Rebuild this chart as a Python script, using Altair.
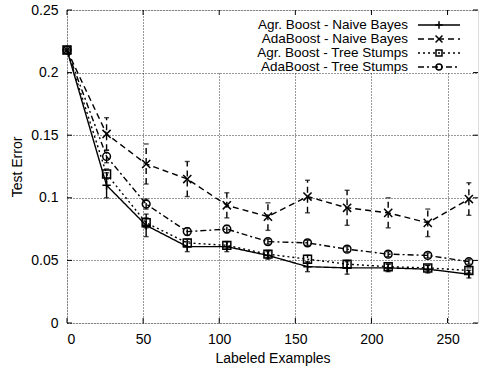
import altair as alt
import pandas as pd

# ---------------- data ----------------
examples = [0, 26, 52, 79, 105, 132, 158, 184, 211, 237, 264]
series_names = [
    "Agr. Boost - Naive Bayes",
    "AdaBoost - Naive Bayes",
    "Agr. Boost - Tree Stumps",
    "AdaBoost - Tree Stumps",
]
agr_nb = [0.218, 0.110, 0.078, 0.061, 0.061, 0.054, 0.045, 0.044, 0.044, 0.043, 0.039]
agr_nb_err = [0.0, 0.010, 0.009, 0.004, 0.004, 0.003, 0.004, 0.005, 0.003, 0.003, 0.003]
ada_nb = [0.218, 0.151, 0.127, 0.115, 0.094, 0.085, 0.101, 0.092, 0.088, 0.080, 0.099]
ada_nb_err = [0.0, 0.013, 0.016, 0.014, 0.010, 0.011, 0.013, 0.014, 0.012, 0.011, 0.013]
agr_ts = [0.218, 0.119, 0.080, 0.064, 0.062, 0.055, 0.051, 0.047, 0.045, 0.044, 0.042]
agr_ts_err = [0.0, 0.004, 0.004, 0.003, 0.003, 0.003, 0.003, 0.003, 0.002, 0.002, 0.002]
ada_ts = [0.218, 0.133, 0.095, 0.073, 0.075, 0.065, 0.064, 0.059, 0.055, 0.054, 0.049]
ada_ts_err = [0.0, 0.005, 0.004, 0.003, 0.003, 0.002, 0.002, 0.002, 0.002, 0.002, 0.002]

x_ticks = [0, 50, 100, 150, 200, 250]
y_ticks = [0, 0.05, 0.1, 0.15, 0.2, 0.25]

values = [agr_nb, ada_nb, agr_ts, ada_ts]
errors = [agr_nb_err, ada_nb_err, agr_ts_err, ada_ts_err]

rows = []
for name, vals, errs in zip(series_names, values, errors):
    for xv, v, e in zip(examples, vals, errs):
        rows.append({"series": name, "x": xv, "y": v, "lo": v - e, "hi": v + e, "err": e})
df = pd.DataFrame(rows)
df_err = df[df["err"] > 0]

# ---------------- styles ----------------
W, H = 411, 313
FONT = "Liberation Sans"
plus_path = "M-1,0L1,0M0,-1L0,1"
x_path = "M-1,-1L1,1M-1,1L1,-1"
shapes = [plus_path, x_path, "square", "circle"]
sizes = [70, 60, 45, 45]
dashes = [[1, 0], [6, 4], [2, 3], [6, 3, 2, 3]]

xscale = alt.Scale(domain=[0, 270], nice=False, zero=False)
yscale = alt.Scale(domain=[0, 0.25], nice=False)

X = alt.X("x:Q", scale=xscale, title="Labeled Examples",
          axis=alt.Axis(values=x_ticks, grid=True, gridDash=[1, 2], gridColor="#000",
                        gridOpacity=0.8, tickSize=0, domain=False, labelPadding=9,
                        labelFontSize=14, titleFontSize=14, titleFont=FONT, labelFont=FONT,
                        titleFontWeight="normal", titlePadding=5, labelColor="#000",
                        titleColor="#000"))
Y = alt.Y("y:Q", scale=yscale, title="Test Error",
          axis=alt.Axis(values=y_ticks, format=".2~f", grid=True, gridDash=[1, 2],
                        gridColor="#000", gridOpacity=0.8, tickSize=0, domain=False,
                        labelPadding=9, labelFontSize=14, titleFontSize=14, titleFont=FONT,
                        labelFont=FONT, titleFontWeight="normal", titlePadding=6,
                        labelColor="#000", titleColor="#000"))

dash_enc = alt.StrokeDash("series:N", scale=alt.Scale(domain=series_names, range=dashes), legend=None)
shape_enc = alt.Shape("series:N", scale=alt.Scale(domain=series_names, range=shapes), legend=None)
size_enc = alt.Size("series:N", scale=alt.Scale(domain=series_names, range=sizes), legend=None)

base = alt.Chart(df)

lines = base.mark_line(color="black", strokeWidth=1.4).encode(x=X, y=Y, strokeDash=dash_enc, detail="series:N")
points = base.mark_point(color="black", strokeWidth=1.5, filled=False, opacity=1).encode(
    x=alt.X("x:Q", scale=xscale), y=alt.Y("y:Q", scale=yscale), shape=shape_enc, size=size_enc)

err_base = alt.Chart(df_err)
err_rules = err_base.mark_rule(color="black", strokeWidth=1.4).encode(
    x=alt.X("x:Q", scale=xscale), y=alt.Y("lo:Q", scale=yscale), y2="hi:Q", strokeDash=dash_enc)
cap_lo = err_base.mark_tick(color="black", thickness=1.4, size=5, orient="horizontal").encode(
    x=alt.X("x:Q", scale=xscale), y=alt.Y("lo:Q", scale=yscale))
cap_hi = err_base.mark_tick(color="black", thickness=1.4, size=5, orient="horizontal").encode(
    x=alt.X("x:Q", scale=xscale), y=alt.Y("hi:Q", scale=yscale))

# inward ticks on all four sides
xt = alt.Chart(pd.DataFrame({"x": x_ticks}))
yt = alt.Chart(pd.DataFrame({"y": y_ticks}))
tick_layers = [
    xt.mark_rule(color="black", strokeWidth=1).encode(x=alt.X("x:Q", scale=xscale), y=alt.value(H), y2=alt.value(H - 5)),
    xt.mark_rule(color="black", strokeWidth=1).encode(x=alt.X("x:Q", scale=xscale), y=alt.value(0), y2=alt.value(5)),
    yt.mark_rule(color="black", strokeWidth=1).encode(y=alt.Y("y:Q", scale=yscale), x=alt.value(0), x2=alt.value(5)),
    yt.mark_rule(color="black", strokeWidth=1).encode(y=alt.Y("y:Q", scale=yscale), x=alt.value(W - 5), x2=alt.value(W)),
]

# legend (gnuplot style: text right-aligned, sample on the right)
legend_df = pd.DataFrame({"series": series_names})
legend_bg = alt.Chart(legend_df.head(1)).mark_rect(color="white").encode(
    x=alt.value(135), x2=alt.value(W - 1), y=alt.value(1), y2=alt.value(63))
legend_layers = []
row_y = [15, 29, 43, 57]
for i, name in enumerate(series_names):
    one = alt.Chart(pd.DataFrame({"series": [name]}))
    legend_layers.append(one.mark_text(align="right", baseline="middle", fontSize=13.5, font=FONT, color="black").encode(
        text="series:N", x=alt.value(341), y=alt.value(row_y[i])))
    legend_layers.append(one.mark_rule(color="black", strokeWidth=1.4, strokeDash=dashes[i]).encode(
        x=alt.value(351), x2=alt.value(393), y=alt.value(row_y[i])))
    legend_layers.append(one.mark_point(color="black", strokeWidth=1.5, filled=False, opacity=1,
                                        shape=shapes[i], size=sizes[i] * 0.8).encode(
        x=alt.value(372), y=alt.value(row_y[i])))

chart = alt.layer(lines, legend_bg, *legend_layers, err_rules, cap_lo, cap_hi, points, *tick_layers).properties(
    width=W, height=H,
    autosize=alt.AutoSizeParams(type="none"),
    padding={"left": 67, "top": 10, "right": 2, "bottom": 48},
).configure_view(stroke="black", strokeWidth=1.5).configure(background="white")

chart.save("out.html", embed_options={"renderer": "svg", "actions": False})
